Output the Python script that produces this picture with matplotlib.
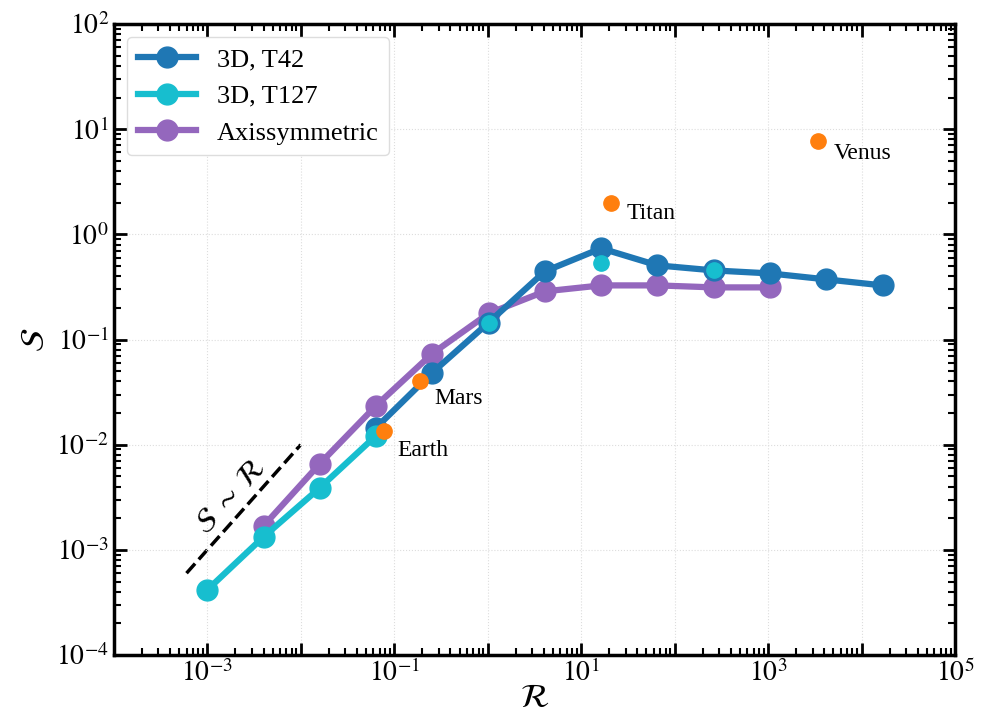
import matplotlib
matplotlib.use("Agg")
import matplotlib.pyplot as plt
from matplotlib.ticker import LogLocator, FixedLocator, NullFormatter
import numpy as np

plt.rcParams['font.family'] = ['Liberation Serif', 'DejaVu Serif']
plt.rcParams['mathtext.fontset'] = 'stix'

# Data
r_t42 = [0.064, 0.256, 1.024, 4.096, 16.38, 65.5, 262.1, 1049, 4194, 16777]
s_t42 = [0.0145, 0.0485, 0.145, 0.445, 0.736, 0.507, 0.454, 0.425, 0.373, 0.327]

r_t127 = [0.001, 0.004, 0.016, 0.064]
s_t127 = [4.16e-4, 1.33e-3, 3.89e-3, 0.0122]
r_t127_extra = [1.024, 16.38, 262.1]
s_t127_extra = [0.142, 0.53, 0.454]

r_axi = [0.004, 0.016, 0.064, 0.256, 1.024, 4.096, 16.38, 65.5, 262.1, 1049]
s_axi = [1.69e-3, 6.59e-3, 0.0235, 0.0736, 0.177, 0.287, 0.327, 0.327, 0.313, 0.313]

planets = ['Earth', 'Mars', 'Titan', 'Venus']
r_planets = [0.077, 0.19, 20.8, 3450]
s_planets = [0.0136, 0.040, 1.97, 7.7]
label_offsets = [(10, -14), (10, -12), (11, -7), (11, -9)]

scaling_r = [6e-4, 1e-2]

# tick decades
x_decades = [-4, -3, -2, -1, 0, 1, 2, 3, 4, 5]
x_labeled = [-3, -1, 1, 3, 5]
y_decades = [-4, -3, -2, -1, 0, 1, 2]

c_t42 = '#1f77b4'
c_t127 = '#17becf'
c_axi = '#9467bd'
c_planet = '#ff7f0e'

fig, ax = plt.subplots(figsize=(9.81, 7.27), dpi=100)
fig.subplots_adjust(left=0.116, right=0.9735, top=0.967, bottom=0.099)

ax.plot(r_axi, s_axi, '-o', color=c_axi, lw=4.5, ms=15, label='Axissymmetric', zorder=2)
ax.plot(r_t42, s_t42, '-o', color=c_t42, lw=4.5, ms=15, label='3D, T42', zorder=3)
ax.plot(r_t127, s_t127, '-o', color=c_t127, lw=4.5, ms=15, label='3D, T127', zorder=4)
ax.plot(r_t127_extra, s_t127_extra, 'o', color=c_t127, ms=11, zorder=5)

ax.plot(r_planets, s_planets, 'o', color=c_planet, ms=11, zorder=6)
for name, r, s, off in zip(planets, r_planets, s_planets, label_offsets):
    ax.annotate(name, (r, s), xytext=off, textcoords='offset points',
                ha='left', va='center', fontsize=17)

# S ~ R scaling line
ax.plot(scaling_r, scaling_r, '--', color='black', lw=2.5, zorder=1)
ax.text(1.8e-3, 3.2e-3, r'$\mathcal{S}\ \sim\ \mathcal{R}$', fontsize=22,
        rotation=48, ha='center', va='center', rotation_mode='anchor')

ax.set_xscale('log')
ax.set_yscale('log')
ax.set_xlim(1e-4, 1e5)
ax.set_ylim(1e-4, 1e2)

ax.set_xticks([10.0 ** e for e in x_decades],
              [r'$10^{%d}$' % e if e in x_labeled else '' for e in x_decades])
ax.set_yticks([10.0 ** e for e in y_decades],
              [r'$10^{%d}$' % e for e in y_decades])
for tick, e in zip(ax.xaxis.get_major_ticks(), x_decades):
    if e not in x_labeled:
        tick.label1.set_visible(False)
ax.xaxis.set_minor_locator(LogLocator(base=10, subs=np.arange(2, 10), numticks=100))
ax.yaxis.set_minor_locator(LogLocator(base=10, subs=np.arange(2, 10), numticks=100))
ax.xaxis.set_minor_formatter(NullFormatter())
ax.yaxis.set_minor_formatter(NullFormatter())

ax.tick_params(which='both', direction='in', top=True, right=True, labelsize=20)
ax.tick_params(which='major', length=9, width=2)
ax.tick_params(which='minor', length=5, width=1.5)
for sp in ax.spines.values():
    sp.set_linewidth(2.5)

ax.grid(True, which='major', linestyle=':', color='#dddddd', lw=0.8)

ax.set_xlabel(r'$\mathcal{R}$', fontsize=24, labelpad=-3)
ax.set_ylabel(r'$\mathcal{S}$', fontsize=24, labelpad=4)

handles, labels = ax.get_legend_handles_labels()
order = [1, 2, 0]
ax.legend([handles[i] for i in order], [labels[i] for i in order],
          loc='upper left', fontsize=19, handlelength=2.2, framealpha=1,
          edgecolor='#dddddd')

plt.savefig('out.png', dpi=100)
